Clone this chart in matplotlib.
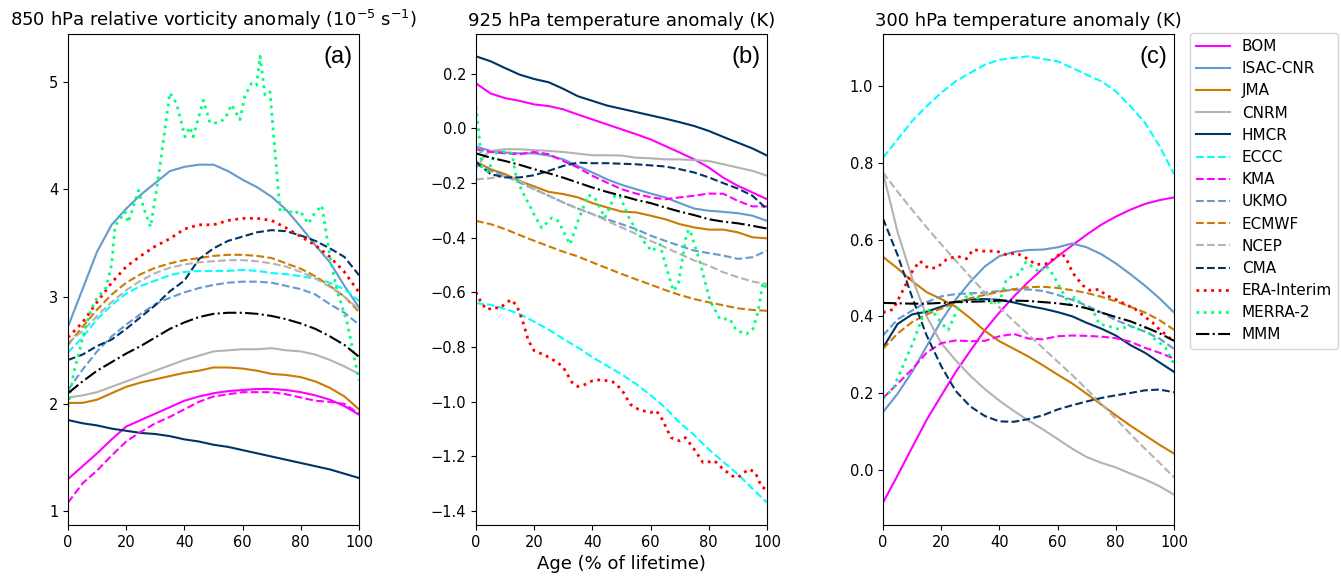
import numpy as np
import matplotlib
matplotlib.use('Agg')
import matplotlib.pyplot as plt


# Age axis (% of lifetime) for the smooth model curves.
age = np.arange(0, 101, 5)

# ---- (a) 850 hPa relative vorticity anomaly (1e-5 s-1) ----
bom_a = [1.30, 1.42, 1.54, 1.67, 1.79, 1.85, 1.91, 1.97, 2.03, 2.07, 2.10, 2.12, 2.13, 2.14, 2.14, 2.13, 2.11, 2.08, 2.04, 1.98, 1.90]
isac_a = [2.72, 3.07, 3.42, 3.67, 3.82, 3.95, 4.06, 4.17, 4.21, 4.23, 4.23, 4.17, 4.09, 4.02, 3.93, 3.81, 3.65, 3.48, 3.32, 3.10, 2.90]
jma_a = [2.01, 2.01, 2.04, 2.10, 2.16, 2.20, 2.23, 2.26, 2.29, 2.31, 2.34, 2.34, 2.33, 2.31, 2.28, 2.27, 2.25, 2.21, 2.15, 2.07, 1.95]
cnrm_a = [2.06, 2.08, 2.11, 2.16, 2.21, 2.26, 2.31, 2.36, 2.41, 2.45, 2.49, 2.50, 2.51, 2.51, 2.52, 2.50, 2.49, 2.46, 2.41, 2.35, 2.28]
hmcr_a = [1.85, 1.82, 1.80, 1.77, 1.75, 1.73, 1.72, 1.70, 1.67, 1.65, 1.62, 1.60, 1.57, 1.54, 1.51, 1.48, 1.45, 1.42, 1.39, 1.35, 1.31]
eccc_a = [2.48, 2.62, 2.79, 2.92, 3.03, 3.10, 3.15, 3.20, 3.23, 3.24, 3.24, 3.24, 3.25, 3.24, 3.22, 3.21, 3.19, 3.17, 3.13, 3.07, 2.96]
kma_a = [1.08, 1.26, 1.38, 1.52, 1.65, 1.74, 1.82, 1.88, 1.95, 2.02, 2.07, 2.09, 2.11, 2.11, 2.11, 2.09, 2.06, 2.03, 2.02, 2.00, 1.91]
ukmo_a = [2.13, 2.32, 2.49, 2.63, 2.74, 2.84, 2.93, 2.99, 3.04, 3.08, 3.11, 3.13, 3.14, 3.14, 3.13, 3.10, 3.07, 3.02, 2.93, 2.85, 2.74]
ecmwf_a = [2.55, 2.72, 2.88, 3.02, 3.13, 3.21, 3.27, 3.31, 3.34, 3.36, 3.38, 3.39, 3.39, 3.38, 3.36, 3.31, 3.26, 3.19, 3.10, 3.00, 2.86]
ncep_a = [2.57, 2.68, 2.82, 2.95, 3.06, 3.15, 3.22, 3.27, 3.30, 3.32, 3.33, 3.34, 3.34, 3.33, 3.31, 3.28, 3.23, 3.17, 3.09, 3.00, 2.88]
cma_a = [2.41, 2.46, 2.54, 2.60, 2.70, 2.81, 2.92, 3.05, 3.15, 3.35, 3.45, 3.52, 3.56, 3.60, 3.62, 3.61, 3.57, 3.52, 3.45, 3.37, 3.20]
era_a = [2.62, 2.76, 2.95, 3.13, 3.28, 3.38, 3.47, 3.54, 3.63, 3.67, 3.67, 3.71, 3.73, 3.73, 3.71, 3.64, 3.56, 3.48, 3.37, 3.23, 3.04]
mmm_a = [2.10, 2.21, 2.31, 2.39, 2.47, 2.54, 2.62, 2.70, 2.76, 2.81, 2.84, 2.85, 2.85, 2.84, 2.82, 2.79, 2.75, 2.70, 2.63, 2.55, 2.44]
merra_a_x = [0, 2, 4, 6, 8, 10, 11, 13, 15, 16.2, 19.6, 20.7, 24.2, 26.5, 28.4, 31, 35, 37.3, 40.2, 41.9, 43,
             46.5, 48.8, 51.7, 54, 56.2, 59.1, 60.8, 63.1, 64.8, 66, 67.7, 69.4, 72.9, 75.1, 77.4, 79.7, 82.6,
             84.3, 87.2, 90, 92.3, 96, 100]
merra_a = [1.97, 2.30, 2.50, 2.72, 2.88, 2.99, 3.02, 3.08, 3.30, 3.66, 3.79, 3.69, 3.99, 3.79, 3.65, 4.10, 4.90, 4.80,
           4.49, 4.58, 4.49, 4.83, 4.62, 4.62, 4.66, 4.79, 4.65, 4.87, 4.99, 4.97, 5.24, 4.88, 4.91, 3.79, 3.82, 3.77,
           3.80, 3.68, 3.76, 3.85, 3.38, 3.07, 2.75, 2.22]

# ---- (b) 925 hPa temperature anomaly (K) ----
bom_b = [0.164, 0.127, 0.110, 0.100, 0.087, 0.081, 0.069, 0.050, 0.032, 0.014, -0.004, -0.022, -0.041, -0.065, -0.089, -0.114, -0.144, -0.181, -0.211, -0.235, -0.260]
isac_b = [-0.067, -0.083, -0.089, -0.092, -0.092, -0.100, -0.114, -0.138, -0.162, -0.187, -0.207, -0.223, -0.239, -0.253, -0.274, -0.294, -0.302, -0.306, -0.311, -0.320, -0.339]
jma_b = [-0.123, -0.150, -0.168, -0.193, -0.213, -0.233, -0.241, -0.253, -0.274, -0.290, -0.305, -0.308, -0.320, -0.333, -0.351, -0.363, -0.371, -0.371, -0.381, -0.399, -0.403]
cnrm_b_x = [0, 3, 5, 10, 15, 20, 25, 30, 35, 40, 45, 50, 55, 60, 65, 70, 75, 80, 85, 90, 95, 100]
cnrm_b = [-0.150, -0.100, -0.083, -0.077, -0.077, -0.080, -0.083, -0.087, -0.093, -0.099, -0.099, -0.100, -0.108, -0.110, -0.114, -0.114, -0.117, -0.120, -0.132, -0.144, -0.156, -0.174]
hmcr_b = [0.263, 0.245, 0.220, 0.196, 0.180, 0.168, 0.144, 0.117, 0.100, 0.083, 0.071, 0.059, 0.047, 0.035, 0.022, 0.008, -0.010, -0.032, -0.053, -0.074, -0.100]
eccc_b = [-0.640, -0.646, -0.661, -0.680, -0.708, -0.737, -0.771, -0.802, -0.838, -0.869, -0.900, -0.936, -0.977, -1.022, -1.077, -1.123, -1.175, -1.221, -1.266, -1.319, -1.370]
kma_b = [-0.077, -0.087, -0.092, -0.095, -0.087, -0.095, -0.120, -0.144, -0.174, -0.199, -0.223, -0.239, -0.253, -0.260, -0.253, -0.247, -0.239, -0.240, -0.266, -0.286, -0.286]
ukmo_b = [-0.132, -0.156, -0.174, -0.199, -0.223, -0.247, -0.272, -0.294, -0.314, -0.333, -0.351, -0.369, -0.393, -0.412, -0.430, -0.448, -0.457, -0.466, -0.478, -0.472, -0.448]
ecmwf_b = [-0.339, -0.351, -0.369, -0.391, -0.412, -0.432, -0.452, -0.469, -0.491, -0.512, -0.533, -0.553, -0.572, -0.592, -0.610, -0.625, -0.637, -0.648, -0.659, -0.665, -0.668]
ncep_b = [-0.187, -0.183, -0.174, -0.193, -0.223, -0.247, -0.272, -0.294, -0.314, -0.339, -0.363, -0.387, -0.412, -0.436, -0.460, -0.484, -0.503, -0.527, -0.545, -0.561, -0.570]
cma_b = [-0.123, -0.168, -0.180, -0.180, -0.172, -0.156, -0.138, -0.126, -0.128, -0.128, -0.130, -0.132, -0.136, -0.140, -0.150, -0.162, -0.180, -0.201, -0.221, -0.247, -0.296]
mmm_b = [-0.092, -0.108, -0.120, -0.134, -0.150, -0.165, -0.181, -0.199, -0.217, -0.233, -0.247, -0.262, -0.274, -0.290, -0.305, -0.318, -0.333, -0.342, -0.348, -0.357, -0.367]
era_b_x = [0, 2, 4, 6, 8, 10, 12, 14, 16, 18, 20, 24, 28, 30, 33, 35, 37, 40, 43, 47, 50, 53, 56, 60, 62, 64,
           67, 70, 72, 75, 78, 80, 82, 85, 88, 90, 92, 94, 96, 98, 100]
era_b = [-0.600, -0.643, -0.664, -0.655, -0.659, -0.643, -0.627, -0.649, -0.704, -0.777, -0.814, -0.832, -0.857,
         -0.875, -0.930, -0.945, -0.940, -0.924, -0.920, -0.928, -0.955, -1.010, -1.030, -1.040, -1.034, -1.065,
         -1.132, -1.144, -1.132, -1.175, -1.223, -1.221, -1.217, -1.248, -1.272, -1.278, -1.260, -1.248, -1.260,
         -1.309, -1.325]
merra_b_x = [0, 1.2, 2, 4.2, 6.5, 9.4, 12.3, 14, 16.8, 19.7, 22.6, 26, 28.3, 32.3, 35.2, 38.6, 40.9, 44.3, 47.8,
             49.5, 52.9, 57.5, 60.4, 63.2, 64.9, 67.8, 69.5, 72.4, 73.5, 77, 80.4, 83.8, 87.2, 89.5, 92.9, 95.2,
             96.9, 98.6, 100]
merra_b = [0.08, -0.04, -0.14, -0.159, -0.092, -0.086, -0.092, -0.189, -0.25, -0.31, -0.365, -0.328, -0.34, -0.425,
           -0.335, -0.244, -0.256, -0.328, -0.244, -0.25, -0.335, -0.413, -0.45, -0.425, -0.49, -0.595, -0.571,
           -0.383, -0.371, -0.492, -0.63, -0.698, -0.698, -0.74, -0.753, -0.734, -0.673, -0.565, -0.59]

# ---- (c) 300 hPa temperature anomaly (K) ----
bom_c = [-0.086, -0.015, 0.058, 0.130, 0.193, 0.255, 0.310, 0.364, 0.410, 0.452, 0.490, 0.525, 0.556, 0.585, 0.613, 0.639, 0.660, 0.678, 0.693, 0.703, 0.710]
isac_c = [0.150, 0.198, 0.255, 0.322, 0.388, 0.444, 0.490, 0.530, 0.557, 0.568, 0.573, 0.574, 0.580, 0.590, 0.580, 0.562, 0.538, 0.510, 0.480, 0.447, 0.410]
jma_c = [0.555, 0.525, 0.492, 0.463, 0.445, 0.425, 0.395, 0.362, 0.335, 0.315, 0.295, 0.272, 0.248, 0.225, 0.198, 0.170, 0.142, 0.115, 0.090, 0.065, 0.042]
cnrm_c = [0.775, 0.620, 0.500, 0.400, 0.330, 0.285, 0.245, 0.210, 0.180, 0.153, 0.128, 0.105, 0.080, 0.055, 0.033, 0.018, 0.006, -0.010, -0.025, -0.043, -0.065]
hmcr_c = [0.318, 0.380, 0.405, 0.412, 0.425, 0.438, 0.444, 0.445, 0.443, 0.436, 0.427, 0.420, 0.411, 0.400, 0.383, 0.368, 0.350, 0.325, 0.305, 0.280, 0.255]
eccc_c = [0.814, 0.861, 0.909, 0.948, 0.983, 1.013, 1.035, 1.056, 1.069, 1.074, 1.078, 1.071, 1.065, 1.048, 1.030, 1.013, 0.987, 0.948, 0.905, 0.844, 0.771]
kma_c = [0.187, 0.224, 0.262, 0.305, 0.330, 0.337, 0.335, 0.336, 0.348, 0.354, 0.342, 0.340, 0.348, 0.350, 0.349, 0.347, 0.343, 0.334, 0.318, 0.305, 0.290]
ukmo_c = [0.350, 0.392, 0.415, 0.437, 0.452, 0.458, 0.460, 0.462, 0.466, 0.469, 0.470, 0.466, 0.456, 0.443, 0.428, 0.410, 0.390, 0.375, 0.360, 0.342, 0.315]
ecmwf_c = [0.315, 0.355, 0.385, 0.405, 0.420, 0.436, 0.447, 0.456, 0.464, 0.471, 0.476, 0.477, 0.474, 0.468, 0.461, 0.451, 0.439, 0.425, 0.410, 0.390, 0.365]
ncep_c = [0.775, 0.725, 0.678, 0.632, 0.588, 0.545, 0.503, 0.462, 0.423, 0.387, 0.352, 0.317, 0.282, 0.247, 0.210, 0.172, 0.133, 0.093, 0.055, 0.018, -0.020]
cma_c = [0.655, 0.560, 0.450, 0.350, 0.270, 0.205, 0.165, 0.140, 0.126, 0.125, 0.132, 0.142, 0.157, 0.168, 0.178, 0.187, 0.194, 0.200, 0.207, 0.209, 0.202]
mmm_c = [0.435, 0.434, 0.433, 0.433, 0.435, 0.437, 0.438, 0.439, 0.441, 0.441, 0.440, 0.437, 0.434, 0.429, 0.421, 0.410, 0.398, 0.387, 0.372, 0.356, 0.336]
era_c_x = [0, 3.5, 7, 10.4, 12.7, 15.5, 18.4, 21.8, 25.2, 28.7, 31, 34.4, 39, 42.3, 45.8, 49.2, 52.6, 56, 58.3,
           61.2, 62.9, 65.2, 68.6, 71, 74.3, 76.6, 80, 83.4, 86.8, 90.3, 92.6, 94.9, 97.1, 100]
era_c = [0.41, 0.418, 0.47, 0.522, 0.544, 0.526, 0.526, 0.548, 0.557, 0.55, 0.574, 0.57, 0.57, 0.561, 0.565, 0.552,
         0.535, 0.537, 0.548, 0.565, 0.552, 0.513, 0.481, 0.468, 0.47, 0.455, 0.444, 0.431, 0.418, 0.397, 0.384,
         0.366, 0.353, 0.333]
merra_c_x = [0, 3.5, 7, 10.4, 12.7, 14.4, 17.2, 20.7, 22.4, 24.7, 26.9, 29.8, 33.2, 36.6, 40, 42.4, 44.6, 46.9,
             49.2, 51.5, 53.8, 56, 58.3, 61.2, 64, 65.8, 69.8, 72, 74.3, 77.2, 81.2, 84.6, 88, 90.3, 92.6, 94.9,
             97.1, 100]
merra_c = [0.186, 0.212, 0.273, 0.333, 0.381, 0.42, 0.411, 0.377, 0.364, 0.403, 0.437, 0.461, 0.444, 0.435, 0.437,
           0.496, 0.505, 0.51, 0.542, 0.528, 0.515, 0.532, 0.51, 0.47, 0.43, 0.45, 0.42, 0.418, 0.38, 0.375, 0.366,
           0.375, 0.366, 0.37, 0.345, 0.332, 0.318, 0.275]

names = ['BOM', 'ISAC-CNR', 'JMA', 'CNRM', 'HMCR', 'ECCC', 'KMA', 'UKMO', 'ECMWF', 'NCEP', 'CMA',
         'ERA-Interim', 'MERRA-2', 'MMM']
colors = ['#ff00ff', '#6699cc', '#cc7a00', '#b3b3b3', '#003366', '#00ffff', '#ff00ff', '#6699cc',
          '#cc7a00', '#b3b3b3', '#003366', '#ff0000', '#00ff7f', 'black']
styles = ['-'] * 5 + ['--'] * 6 + [':', ':', '-.']

panels = [
    [(age, bom_a), (age, isac_a), (age, jma_a), (age, cnrm_a), (age, hmcr_a), (age, eccc_a), (age, kma_a),
     (age, ukmo_a), (age, ecmwf_a), (age, ncep_a), (age, cma_a), (age, era_a), (merra_a_x, merra_a), (age, mmm_a)],
    [(age, bom_b), (age, isac_b), (age, jma_b), (cnrm_b_x, cnrm_b), (age, hmcr_b), (age, eccc_b), (age, kma_b),
     (age, ukmo_b), (age, ecmwf_b), (age, ncep_b), (age, cma_b), (era_b_x, era_b), (merra_b_x, merra_b), (age, mmm_b)],
    [(age, bom_c), (age, isac_c), (age, jma_c), (age, cnrm_c), (age, hmcr_c), (age, eccc_c), (age, kma_c),
     (age, ukmo_c), (age, ecmwf_c), (age, ncep_c), (age, cma_c), (era_c_x, era_c), (merra_c_x, merra_c), (age, mmm_c)],
]
titles = [r'850 hPa relative vorticity anomaly ($10^{-5}$ s$^{-1}$)',
          '925 hPa temperature anomaly (K)',
          '300 hPa temperature anomaly (K)']
tags = ['(a)', '(b)', '(c)']
lefts = [68, 476, 883]

plt.rcParams['font.size'] = 10.5

fig = plt.figure(figsize=(13.41, 5.81), dpi=100)
handles = []
for k, series in enumerate(panels):
    ax = fig.add_axes([lefts[k] / 1341, 1 - 525 / 581, 291 / 1341, 491 / 581])
    for i, (xs, ys) in enumerate(series):
        lw = 2.0 if styles[i] == ':' else 1.5
        line, = ax.plot(xs, ys, color=colors[i], ls=styles[i], lw=lw, label=names[i])
        if k == 0:
            handles.append(line)
    ax.set_xlim(0, 100)
    ax.set_xticks([0, 20, 40, 60, 80, 100])
    ax.set_title(titles[k], fontsize=13)
    ax.text(0.978, 0.975, tags[k], transform=ax.transAxes, ha='right', va='top',
            fontsize=17, family='Liberation Sans')
    if k == 1:
        ax.set_xlabel('Age (% of lifetime)', fontsize=13)

fig.legend(handles, names, loc='upper left', bbox_to_anchor=(1190 / 1341, 1 - 33 / 581),
           borderaxespad=0, handlelength=2.2, labelspacing=0.47, fontsize=11)

fig.savefig('out.png', dpi=100)
